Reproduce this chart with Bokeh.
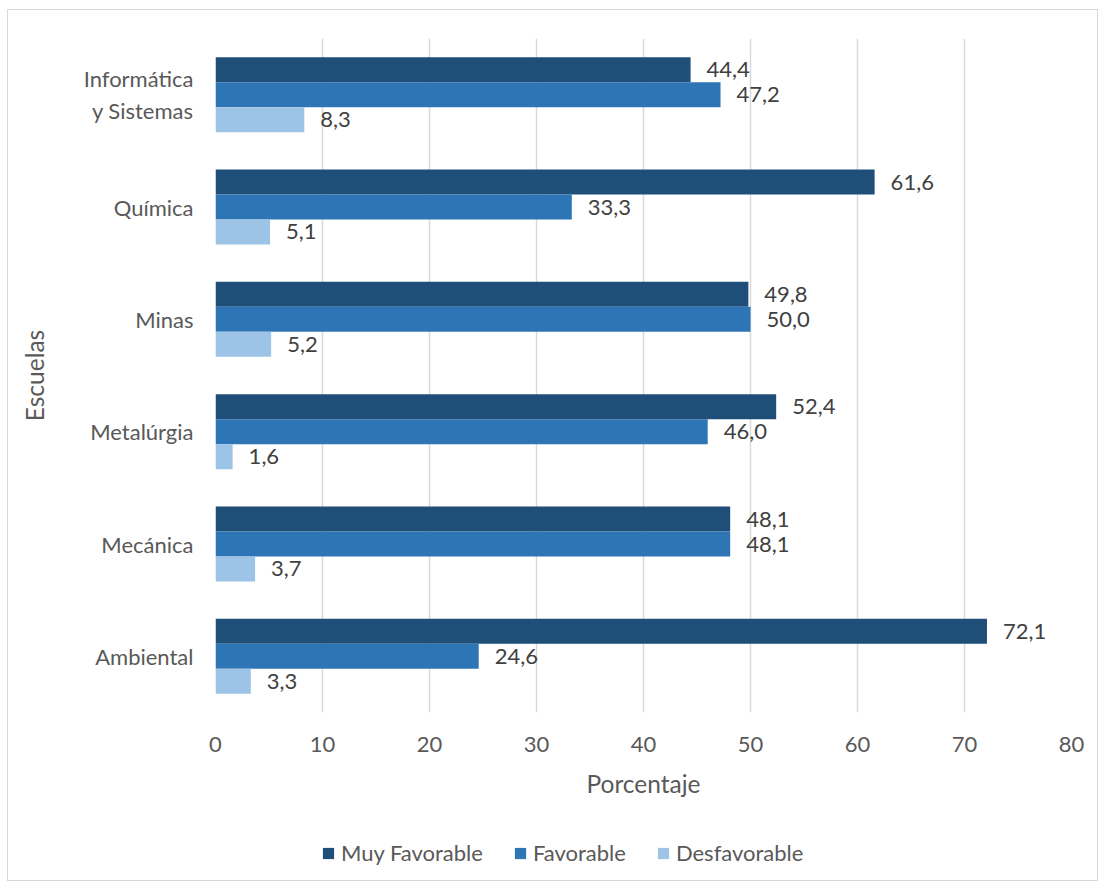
from bokeh.plotting import figure
from bokeh.layouts import column
from bokeh.models import ColumnDataSource, FactorRange, Legend, LegendItem, FixedTicker
from bokeh.transform import dodge
from bokeh.core.properties import value
from bokeh.embed import file_html
from bokeh.resources import INLINE

# Schools, listed top to bottom
escuelas = ["Informática\ny Sistemas", "Química", "Minas", "Metalúrgia", "Mecánica", "Ambiental"]

# Percentages per opinion level
muy_favorable = [44.4, 61.6, 49.8, 52.4, 48.1, 72.1]
favorable = [47.2, 33.3, 50.0, 46.0, 48.1, 24.6]
desfavorable = [8.3, 5.1, 5.2, 1.6, 3.7, 3.3]

series_names = ["Muy Favorable", "Favorable", "Desfavorable"]
series_colors = ["#1F4E79", "#2E75B6", "#9DC3E6"]
x_ticks = [0, 10, 20, 30, 40, 50, 60, 70, 80]

FONT = "Lato"
TICK_COLOR = "#595959"
LABEL_COLOR = "#404040"

p = figure(
    width=1089, height=810,
    y_range=FactorRange(*reversed(escuelas)),
    x_range=(0, 80),
    output_backend="svg", toolbar_location=None,
    min_border_left=207, min_border_right=26,
    min_border_top=28, min_border_bottom=108,
)
p.outline_line_color = None
p.background_fill_color = "white"
p.border_fill_color = "white"

bar_h = 0.2225
offsets = [bar_h, 0.0, -bar_h]
values_by_series = [muy_favorable, favorable, desfavorable]

for name, color, vals, off in zip(series_names, series_colors, values_by_series, offsets):
    src = ColumnDataSource(dict(
        escuela=escuelas,
        valor=vals,
        etiqueta=[f"{v:.1f}".replace(".", ",") for v in vals],
    ))
    p.hbar(y=dodge("escuela", off, range=p.y_range), right="valor", left=0,
           height=bar_h, source=src, fill_color=color, line_color=None)
    p.text(x="valor", y=dodge("escuela", off, range=p.y_range), text="etiqueta",
           source=src, x_offset=16, text_baseline="middle", text_align="left",
           text_font=value(FONT), text_font_size="22px", text_color=LABEL_COLOR)

# Axes
p.xaxis.ticker = FixedTicker(ticks=x_ticks)
p.xaxis.axis_line_color = None
p.xaxis.major_tick_line_color = None
p.xaxis.minor_tick_line_color = None
p.xaxis.major_label_standoff = 18
p.xaxis.major_label_text_font = FONT
p.xaxis.major_label_text_font_size = "22px"
p.xaxis.major_label_text_color = TICK_COLOR
p.xaxis.axis_label = "Porcentaje"
p.xaxis.axis_label_text_font = FONT
p.xaxis.axis_label_text_font_size = "24.5px"
p.xaxis.axis_label_text_font_style = "normal"
p.xaxis.axis_label_text_color = TICK_COLOR
p.xaxis.axis_label_standoff = 14

p.yaxis.axis_line_color = None
p.yaxis.major_tick_line_color = None
p.yaxis.major_tick_out = 0
p.yaxis.major_label_standoff = 22
p.yaxis.major_label_text_font = FONT
p.yaxis.major_label_text_font_size = "22px"
p.yaxis.major_label_text_color = TICK_COLOR
p.yaxis.axis_label = "Escuelas"
p.yaxis.axis_label_text_font = FONT
p.yaxis.axis_label_text_font_size = "24.5px"
p.yaxis.axis_label_text_font_style = "normal"
p.yaxis.axis_label_text_color = TICK_COLOR
p.yaxis.axis_label_standoff = 32

p.xgrid.grid_line_color = "#D9D9D9"
p.xgrid.grid_line_width = 1.5
p.ygrid.grid_line_color = None

# Legend strip under the chart (its frame lines up with the chart's frame)
leg = figure(
    width=1089, height=60, x_range=(0, 1), y_range=(0, 1),
    output_backend="svg", toolbar_location=None,
    min_border_left=0, min_border_right=0,
    min_border_top=0, min_border_bottom=0,
)
leg.axis.visible = False
leg.grid.visible = False
leg.outline_line_color = None
leg.border_fill_color = "white"

legend_items = []
for name, color in zip(series_names, series_colors):
    # swatch renderer kept well outside the visible ranges; only its legend symbol shows
    swatch = leg.hbar(y=[-50], left=[-60], right=[-50], height=1,
                      fill_color=color, line_color=None)
    legend_items.append(LegendItem(label=name, renderers=[swatch]))

legend = Legend(
    items=legend_items, orientation="horizontal", location=(106, 14),
    glyph_width=14, glyph_height=14, label_standoff=6, spacing=30,
    padding=0, margin=0,
    label_text_font=FONT, label_text_font_size="22px", label_text_color=TICK_COLOR,
    border_line_color=None, background_fill_alpha=0,
)
leg.add_layout(legend, "center")

# light frame around the whole chart
layout = column(p, leg, spacing=0)
layout.styles = {"border": "1px solid #D9D9D9", "margin-left": "7px", "margin-top": "9px"}

open("out.html", "w").write(file_html(layout, INLINE))
